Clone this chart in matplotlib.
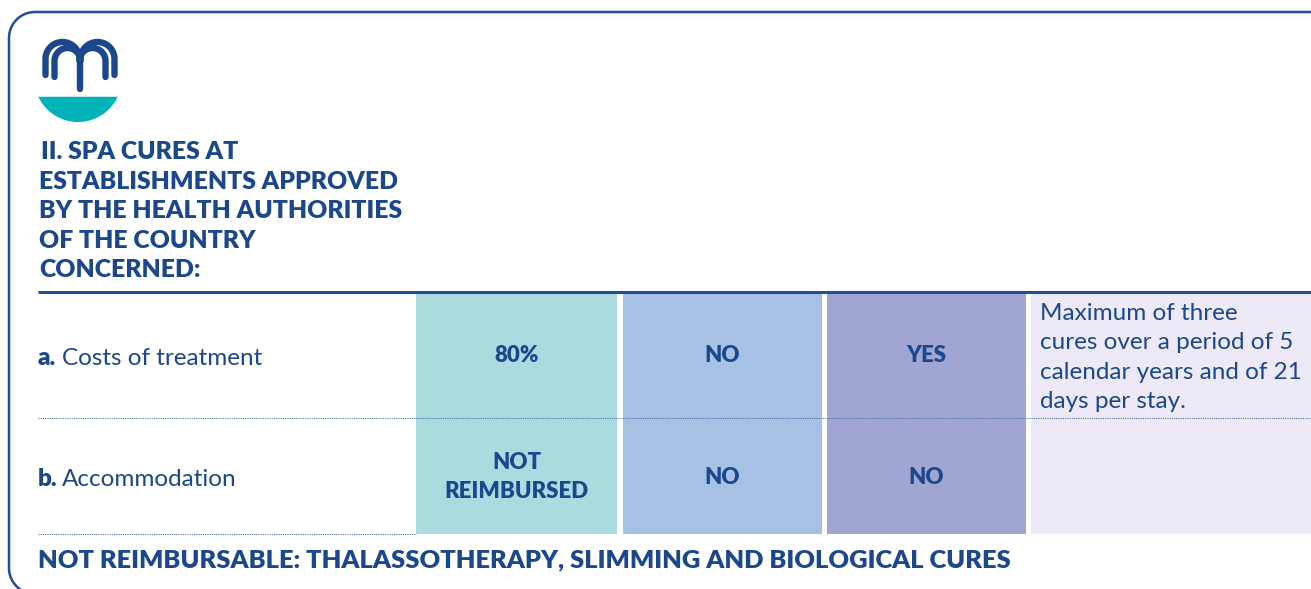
import numpy as np
import matplotlib.pyplot as plt
from matplotlib import font_manager
from matplotlib.patches import Rectangle, Polygon

heading_lines = ['II. SPA CURES AT', 'ESTABLISHMENTS APPROVED', 'BY THE HEALTH AUTHORITIES',
                 'OF THE COUNTRY', 'CONCERNED:']
row_letters = ['a.', 'b.']
row_labels = ['Costs of treatment', 'Accommodation']
cell_values = [['80%', 'NO', 'YES'],
               ['NOT\nREIMBURSED', 'NO', 'NO']]
note_text = 'Maximum of three\ncures over a period of 5\ncalendar years and of 21\ndays per stay.'
footer_text = 'NOT REIMBURSABLE: THALASSOTHERAPY, SLIMMING AND BIOLOGICAL CURES'

col_colors = ['#abdadf', '#a7c1e5', '#a0a6d1', '#eee9f6']
blue = '#1b478d'
frame_blue = '#1f4e97'
teal = '#00b3b6'

plt.rcParams['font.family'] = ['Lato', 'DejaVu Sans']
heavy_file = font_manager.findfont(font_manager.FontProperties(family='Lato', weight='heavy'))


def strong(size):
    return font_manager.FontProperties(fname=heavy_file, size=size)


fig = plt.figure(figsize=(13.11, 5.89), dpi=100)
ax = fig.add_axes([0, 0, 1, 1])
ax.set_xlim(0, 1311)
ax.set_ylim(589, 0)
ax.axis('off')

# rounded frame (open on right and bottom)
r = 26
t1 = np.linspace(np.pi / 2, np.pi, 30)
t2 = np.linspace(np.pi, 1.5 * np.pi, 30)
fx = np.concatenate([[1320], 9 + r + r * np.cos(t1), 9 + r + r * np.cos(t2), [60]])
fy = np.concatenate([[12], 12 + r - r * np.sin(t1), 594 - r - r * np.sin(t2), [594]])
ax.plot(fx, fy, color=frame_blue, lw=1.8, solid_joinstyle='round')

# logo: fountain arches + bowl
def arch(cx, cy, rr, y_left, y_right):
    t = np.linspace(np.pi, 0, 60)
    xs = np.concatenate([[cx - rr], cx + rr * np.cos(t), [cx + rr]])
    ys = np.concatenate([[y_left], cy - rr * np.sin(t), [y_right]])
    ax.plot(xs, ys, color=blue, lw=4.6, solid_capstyle='round', solid_joinstyle='round')

arch(62.5, 59, 17, 75, 60)
arch(67.5, 61, 13, 77, 61)
arch(97.5, 59, 17, 60, 75)
arch(92.5, 61, 13, 61, 77)
ax.plot([80, 80], [52, 89], color=blue, lw=4.6, solid_capstyle='round')
r_bowl = 43.8
t = np.linspace(0, np.pi, 80)
bx = 78 + r_bowl * np.cos(t)
by = 122 - r_bowl + r_bowl * np.sin(t)
mask = by >= 96
bowl = np.column_stack([bx[mask], by[mask]])
ax.add_patch(Polygon(bowl, closed=True, fc=teal, ec='none'))

# heading
for i, line in enumerate(heading_lines):
    ax.text(41 if i == 0 else 39, 159.3 + 29.4 * i, line, fontproperties=strong(17.8),
            color=blue, va='baseline', ha='left')

# table cells
col_x = [416, 622.5, 826.5, 1031]
col_w = [201, 199.5, 199.5, 300]
for x0, w, c in zip(col_x, col_w, col_colors):
    ax.add_patch(Rectangle((x0, 292), w, 242, fc=c, ec='none'))

ax.plot([38, 1311], [291.5, 291.5], color=frame_blue, lw=2.2, solid_capstyle='butt')
ax.plot([38, 1311], [418, 418], color='#4f74b0', lw=0.8, ls=(0, (1, 1)))
ax.plot([38, 416], [533.5, 533.5], color='#4f74b0', lw=0.8, ls=(0, (1, 1)))

row_y = [356, 477]
for i in range(2):
    ax.text(38, row_y[i] + 9, row_letters[i], fontproperties=strong(17.5),
            color=blue, va='baseline')
    ax.text(62, row_y[i] + 9, row_labels[i], fontsize=17.5, color=blue, va='baseline')
    for j, val in enumerate(cell_values[i]):
        cx = col_x[j] + col_w[j] / 2
        parts = val.split('\n')
        for k, p in enumerate(parts):
            yy = row_y[i] + (k - (len(parts) - 1) / 2) * 28.5
            ax.text(cx, yy, p, fontproperties=strong(16), color=blue,
                    ha='center', va='center')

for k, line in enumerate(note_text.split('\n')):
    ax.text(1040, 320 + 29.4 * k, line, fontsize=17.5, color=blue, va='baseline')

ax.text(38, 567, footer_text, fontproperties=strong(18.35), color=blue, va='baseline')

fig.savefig('out.png', dpi=100)
